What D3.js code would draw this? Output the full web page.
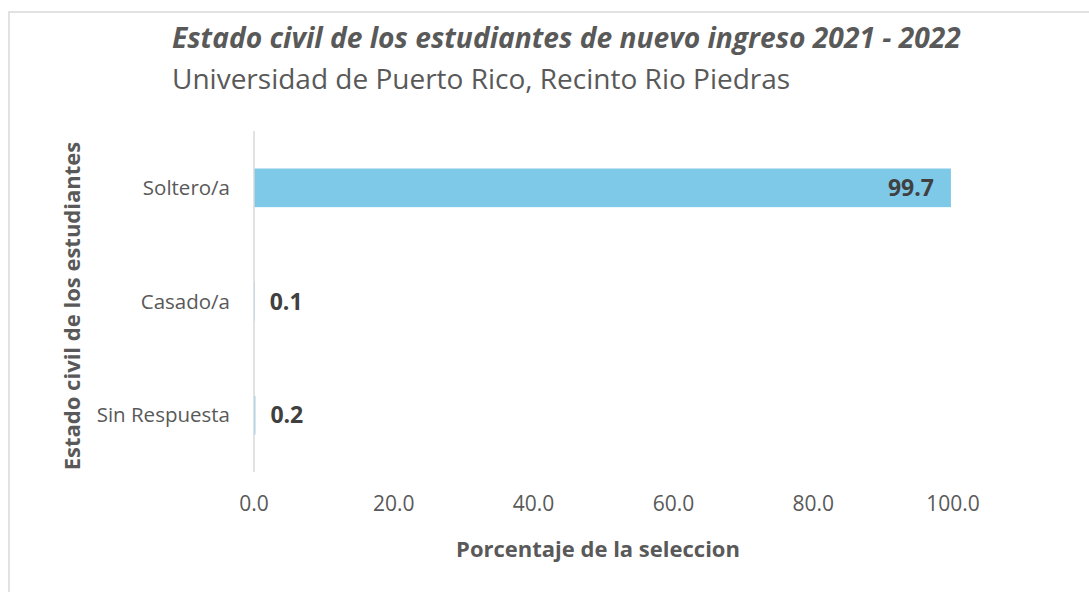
<!DOCTYPE html>
<html>
<head>
<meta charset="utf-8">
<script src="https://cdn.jsdelivr.net/npm/d3@7"></script>
<style>
  body { margin: 0; background: #fff; }
  text { font-family: "Open Sans", "Noto Sans", sans-serif; }
</style>
</head>
<body>
<div id="chart"></div>
<script>
// chart data
var categories = ["Soltero/a", "Casado/a", "Sin Respuesta"];
var values = [99.7, 0.1, 0.2];
var xTicks = [0, 20, 40, 60, 80, 100];

var w = 1089;
var h = 592;
var plotLeft = 254, plotRight = 953, plotTop = 131, plotBottom = 472;

var svg = d3.select("#chart")
    .append("svg")
    .attr("width", w)
    .attr("height", h);

// outer chart border
svg.append("rect")
    .attr("x", 9)
    .attr("y", 12)
    .attr("width", 1200)
    .attr("height", 700)
    .attr("fill", "none")
    .attr("stroke", "#d9d9d9")
    .attr("stroke-width", 1.5);

var xScale = d3.scaleLinear()
    .domain([0, 100])
    .range([plotLeft, plotRight]);

var yScale = d3.scaleBand()
    .domain(categories)
    .range([plotTop, plotBottom])
    .paddingInner(0.66)
    .paddingOuter(0.33);

// titles
svg.append("text")
    .attr("x", 172)
    .attr("y", 48)
    .attr("fill", "#595959")
    .style("font-size", "28.2px")
    .style("font-weight", "bold")
    .style("font-style", "italic")
    .text("Estado civil de los estudiantes de nuevo ingreso 2021 - 2022");

svg.append("text")
    .attr("x", 172)
    .attr("y", 89)
    .attr("fill", "#595959")
    .style("font-size", "28px")
    .text("Universidad de Puerto Rico, Recinto Rio Piedras");

// bars
svg.selectAll("rect.bar")
    .data(values)
    .enter()
    .append("rect")
    .attr("class", "bar")
    .attr("x", xScale(0))
    .attr("y", function (d, i) { return yScale(categories[i]); })
    .attr("width", function (d) { return xScale(d) - xScale(0); })
    .attr("height", yScale.bandwidth())
    .attr("fill", "#7ec8e8");

// vertical axis line
svg.append("line")
    .attr("x1", plotLeft)
    .attr("x2", plotLeft)
    .attr("y1", plotTop)
    .attr("y2", plotBottom)
    .attr("stroke", "#d9d9d9")
    .attr("stroke-width", 1.5);

// category labels
svg.selectAll("text.cat")
    .data(categories)
    .enter()
    .append("text")
    .attr("class", "cat")
    .attr("x", plotLeft - 24)
    .attr("y", function (d) { return yScale(d) + yScale.bandwidth() / 2; })
    .attr("dy", "0.35em")
    .attr("text-anchor", "end")
    .attr("fill", "#595959")
    .style("font-size", "20.5px")
    .text(function (d) { return d; });

// x tick labels
svg.selectAll("text.tick")
    .data(xTicks)
    .enter()
    .append("text")
    .attr("class", "tick")
    .attr("x", function (d) { return xScale(d); })
    .attr("y", 511)
    .attr("text-anchor", "middle")
    .attr("fill", "#595959")
    .style("font-size", "21px")
    .text(function (d) { return d.toFixed(1); });

// data labels
svg.selectAll("text.val")
    .data(values)
    .enter()
    .append("text")
    .attr("class", "val")
    .attr("x", function (d) { return d > 50 ? xScale(d) - 17 : xScale(d) + 15; })
    .attr("y", function (d, i) { return yScale(categories[i]) + yScale.bandwidth() / 2; })
    .attr("dy", "0.35em")
    .attr("text-anchor", function (d) { return d > 50 ? "end" : "start"; })
    .attr("fill", "#404040")
    .style("font-size", "23px")
    .style("font-weight", "bold")
    .text(function (d) { return d.toFixed(1); });

// axis titles
svg.append("text")
    .attr("x", 598)
    .attr("y", 557)
    .attr("text-anchor", "middle")
    .attr("fill", "#595959")
    .style("font-size", "22px")
    .style("font-weight", "bold")
    .text("Porcentaje de la seleccion");

svg.append("text")
    .attr("transform", "translate(80,306) rotate(-90)")
    .attr("text-anchor", "middle")
    .attr("fill", "#595959")
    .style("font-size", "22px")
    .style("font-weight", "bold")
    .text("Estado civil de los estudiantes");
</script>
</body>
</html>
